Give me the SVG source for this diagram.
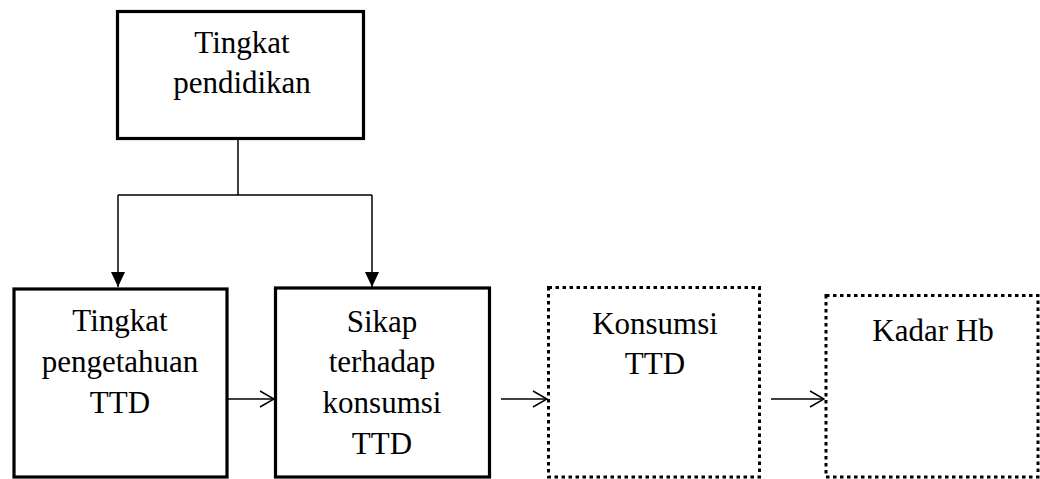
<svg xmlns="http://www.w3.org/2000/svg" width="1040" height="479" viewBox="0 0 1040 479">
<style>
.box{fill:#fff;stroke:#000;stroke-width:3.2}
.dot{fill:#fff;stroke:#000;stroke-width:3;stroke-dasharray:3.5 3.5}
.t{font-family:"Liberation Serif","Times New Roman",serif;font-size:31px;fill:#000;text-anchor:middle}
.c{fill:none;stroke:#000;stroke-width:1.5}
</style>
<defs>
<marker id="tri" viewBox="0 0 16 16" refX="15" refY="8" markerWidth="16" markerHeight="16" markerUnits="userSpaceOnUse" orient="auto">
<path d="M0,1 L15,8 L0,15 Z" fill="#000"/>
</marker>
<marker id="open" viewBox="0 0 16 18" refX="15" refY="9" markerWidth="16" markerHeight="18" markerUnits="userSpaceOnUse" orient="auto">
<path d="M1,1 L15,9 L1,17" fill="none" stroke="#000" stroke-width="1.5"/>
</marker>
</defs>
<g id="connectors">
<path class="c" d="M238,140 V195 M118,195 H372"/>
<path class="c" d="M118,195 V287" marker-end="url(#tri)"/>
<path class="c" d="M372,195 V287" marker-end="url(#tri)"/>
<path class="c" d="M228,399 H274" marker-end="url(#open)"/>
<path class="c" d="M501,399 H547" marker-end="url(#open)"/>
<path class="c" d="M771,399 H824" marker-end="url(#open)"/>
</g>
<g id="node-pendidikan">
<rect class="box" x="117.5" y="11.5" width="246" height="127"/>
<text class="t" x="242" y="53">Tingkat</text>
<text class="t" x="242" y="93">pendidikan</text>
</g>
<g id="node-pengetahuan">
<rect class="box" x="14" y="289" width="213" height="188"/>
<text class="t" x="120" y="331">Tingkat</text>
<text class="t" x="120" y="372">pengetahuan</text>
<text class="t" x="120" y="413">TTD</text>
</g>
<g id="node-sikap">
<rect class="box" x="275.5" y="288" width="214" height="189"/>
<text class="t" x="382" y="332">Sikap</text>
<text class="t" x="382" y="372">terhadap</text>
<text class="t" x="382" y="413">konsumsi</text>
<text class="t" x="382" y="454">TTD</text>
</g>
<g id="node-konsumsi">
<rect class="dot" x="548.5" y="287.5" width="211" height="189.5"/>
<text class="t" x="655" y="334">Konsumsi</text>
<text class="t" x="655" y="374">TTD</text>
</g>
<g id="node-hb">
<rect class="dot" x="826" y="295.5" width="212" height="181.5"/>
<text class="t" x="933" y="341">Kadar Hb</text>
</g>
</svg>
